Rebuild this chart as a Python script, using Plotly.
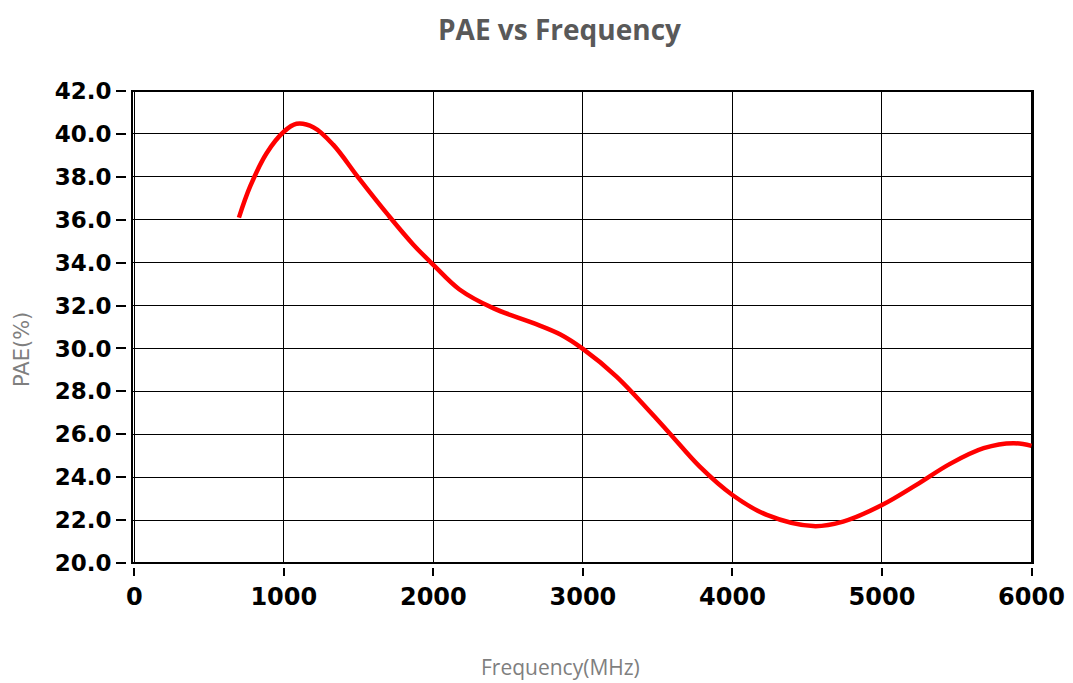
import plotly.graph_objects as go

freq_mhz = [700, 775, 885, 1000, 1085, 1200, 1330, 1500, 1700, 1865, 2000, 2175, 2400,
            2670, 2850, 3000, 3225, 3560, 3780, 4000, 4230, 4540, 4740, 5000, 5230,
            5455, 5680, 5880, 6000]
pae_pct = [36.1, 37.55, 39.1, 40.1, 40.47, 40.3, 39.5, 37.95, 36.2, 34.85, 33.9, 32.75,
           31.88, 31.18, 30.65, 29.98, 28.69, 26.2, 24.5, 23.17, 22.24, 21.72, 21.93,
           22.7, 23.64, 24.62, 25.35, 25.58, 25.46]
x_ticks = [0, 1000, 2000, 3000, 4000, 5000, 6000]
y_ticks = [20, 22, 24, 26, 28, 30, 32, 34, 36, 38, 40, 42]

fig = go.Figure()
fig.add_trace(go.Scatter(x=freq_mhz, y=pae_pct, mode="lines",
                         line=dict(color="#ff0000", width=4.5, shape="spline", smoothing=1.0),
                         showlegend=False, hoverinfo="x+y"))

# page has an 8px body margin; figure coordinates = page coordinates - 8
OFF = 8
W, H = 1073 - OFF, 683 - OFF
ml, mr, mt, mb = 126 - OFF, 40, 91 - OFF, 116
pw = W - ml - mr
ph = H - mt - mb

fig.update_layout(
    width=W, height=H,
    margin=dict(l=ml, r=mr, t=mt, b=mb, autoexpand=False),
    paper_bgcolor="white", plot_bgcolor="white",
    xaxis=dict(domain=[6 / pw, 1], range=[-15, 6010], anchor="free", position=0,
               tickvals=x_ticks, ticktext=[str(v) for v in x_ticks],
               ticks="outside", ticklen=8, tickwidth=2, tickcolor="black",
               showline=False, showgrid=True, gridcolor="black", gridwidth=1,
               zeroline=False,
               tickfont=dict(family="DejaVu Sans", size=24, color="black", weight="bold")),
    yaxis=dict(domain=[4 / ph, 1], range=[20, 42], anchor="free", position=0,
               tickvals=y_ticks, tickformat=".1f",
               ticks="outside", ticklen=10, tickwidth=2, tickcolor="black",
               showline=False, showgrid=True, gridcolor="black", gridwidth=1,
               zeroline=False,
               tickfont=dict(family="DejaVu Sans", size=23, color="black", weight="bold")),
    shapes=[dict(type="rect", xref="x domain", yref="y domain", x0=0, x1=1, y0=0, y1=1,
                 line=dict(color="black", width=2), layer="above")],
    annotations=[
        dict(text="<b>PAE vs Frequency</b>", xref="paper", yref="paper",
             x=(559.5 - 126) / pw, y=(567 - 29) / ph, xanchor="center", yanchor="middle",
             showarrow=False, font=dict(family="Open Sans", size=28, color="#595959")),
        dict(text="Frequency(MHz)", xref="paper", yref="paper",
             x=(560 - 126) / pw, y=(567 - 667) / ph, xanchor="center", yanchor="middle",
             showarrow=False, font=dict(family="Open Sans", size=21, color="#7f7f7f")),
        dict(text="PAE(%)", xref="paper", yref="paper", textangle=-90,
             x=(22 - 126) / pw, y=(567 - 350) / ph, xanchor="center", yanchor="middle",
             showarrow=False, font=dict(family="DejaVu Sans", size=21, color="#7f7f7f")),
    ],
)

fig.write_html("out.html")
